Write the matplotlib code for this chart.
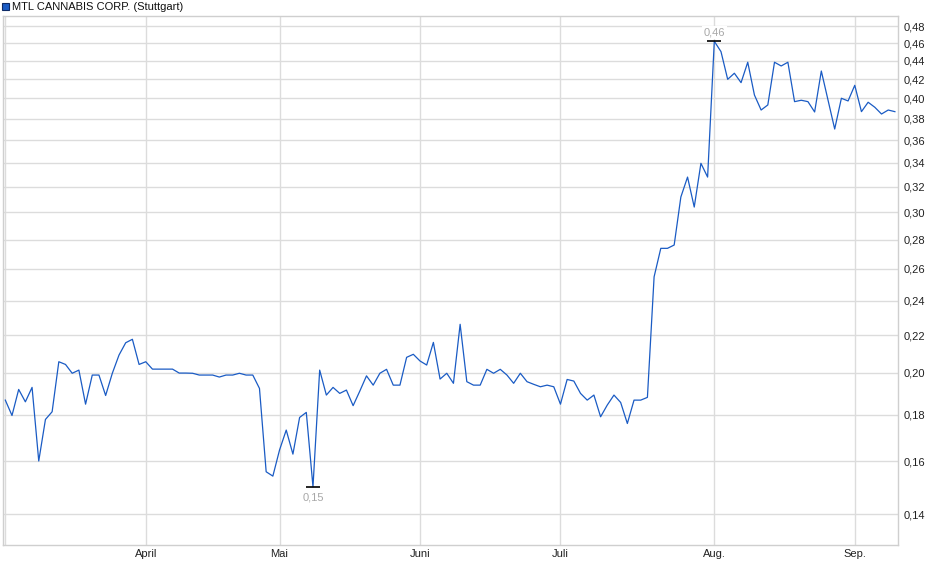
#MTL Cannabis Corp. price chart (Stuttgart), log scaled price axis

import matplotlib
matplotlib.use("Agg")
import matplotlib.pyplot as plt
from matplotlib.ticker import FixedLocator, NullLocator

plt.rcParams['font.family'] = ['Liberation Sans', 'DejaVu Sans']

#closing prices, one per trading day
prices = [
    0.1867, 0.1796, 0.1918, 0.1859, 0.1928, 0.1601, 0.1778, 0.1813, 0.2057, 0.2043,
    0.1998, 0.2014, 0.1848, 0.1989, 0.1989, 0.1889, 0.1998, 0.2092, 0.2158, 0.2177,
    0.2043, 0.2057, 0.2019, 0.2019, 0.2019, 0.2019, 0.1999, 0.1999, 0.1998, 0.1989,
    0.1989, 0.1989, 0.1979, 0.1989, 0.1989, 0.1998, 0.1989, 0.1989, 0.1923, 0.1558,
    0.1541, 0.1646, 0.1731, 0.1629, 0.1787, 0.1810, 0.1500, 0.2014, 0.1891, 0.1928,
    0.1899, 0.1915, 0.1841, 0.1910, 0.1985, 0.1939, 0.1998, 0.2018, 0.1939, 0.1939,
    0.2080, 0.2096, 0.2061, 0.2040, 0.2160, 0.1969, 0.1998, 0.1948, 0.2261, 0.1956,
    0.1939, 0.1939, 0.2018, 0.1998, 0.2018, 0.1989, 0.1948, 0.1998, 0.1956, 0.1943,
    0.1931, 0.1939, 0.1931, 0.1848, 0.1967, 0.1959, 0.1899, 0.1867, 0.1891, 0.1790,
    0.1844, 0.1891, 0.1856, 0.1760, 0.1867, 0.1867, 0.1880, 0.2549, 0.2739, 0.2739,
    0.2762, 0.3118, 0.3279, 0.3040, 0.3395, 0.3279, 0.4620, 0.4501, 0.4197, 0.4262,
    0.4162, 0.4382, 0.4034, 0.3884, 0.3934, 0.4382, 0.4341, 0.4382, 0.3967, 0.3981,
    0.3967, 0.3865, 0.4286, 0.3984, 0.3702, 0.4001, 0.3974, 0.4134, 0.3868, 0.3961,
    0.3911, 0.3845, 0.3884, 0.3868,
]

#month starts (trading day index) and their labels
month_pos = [0, 21, 41, 62, 83, 106, 127]
month_labels = ["", "April", "Mai", "Juni", "Juli", "Aug.", "Sep."]

#price axis ticks
price_ticks = [0.14, 0.16, 0.18, 0.20, 0.22, 0.24, 0.26, 0.28, 0.30, 0.32,
               0.34, 0.36, 0.38, 0.40, 0.42, 0.44, 0.46, 0.48]

days = list(range(len(prices)))
grid_col = "#dcdcdc"
line_col = "#1a5bc4"

fig = plt.figure(figsize=(9.4, 5.79), dpi=100)
ax = fig.add_axes([0.00287, 0.0582, 0.9527, 0.9142])

ax.set_yscale("log")
ax.set_ylim(0.1294, 0.4925)
ax.set_xlim(-0.39, 133.5)

ax.plot(days, prices, color=line_col, lw=0.9, zorder=3)

#min and max markers
i_min = prices.index(min(prices))
i_max = prices.index(max(prices))
ax.plot([i_min, i_max], [prices[i_min], prices[i_max]], ls="none", marker="_",
        ms=10, mew=1.2, color="black", zorder=4)
ax.annotate("0,15", (i_min, prices[i_min]), xytext=(0, -8), textcoords="offset points",
            ha="center", va="center", fontsize=8, color="#a8a8a8")
ax.annotate("0,46", (i_max, prices[i_max]), xytext=(0, 6.5), textcoords="offset points",
            ha="center", va="center", fontsize=8, color="#a8a8a8",
            bbox=dict(boxstyle="square,pad=0.15", fc="white", ec="none"), zorder=5)

ax.yaxis.set_major_locator(FixedLocator(price_ticks))
ax.yaxis.set_minor_locator(NullLocator())
ax.set_yticklabels([("%.2f" % t).replace(".", ",") for t in price_ticks])
ax.yaxis.tick_right()
ax.set_xticks(month_pos)
ax.set_xticklabels(month_labels)
ax.tick_params(axis="both", length=0, labelsize=8, colors="#222222")
ax.tick_params(axis="y", pad=4)
ax.tick_params(axis="x", pad=3)

ax.grid(True, color=grid_col, lw=1, zorder=0)
for s in ax.spines.values():
    s.set_color("#cfcfcf")
    s.set_linewidth(1)

#legend style title
fig.patches.append(plt.Rectangle((2 / 940, 1 - 10 / 579), 7 / 940, 7 / 579,
                                 transform=fig.transFigure, fc=line_col, ec="#0d2a66", lw=0.8))
fig.text(12 / 940, 1 - 6.5 / 579, "MTL CANNABIS CORP. (Stuttgart)", fontsize=8,
         color="#111111", va="center", ha="left")

fig.savefig("out.png", dpi=100)
